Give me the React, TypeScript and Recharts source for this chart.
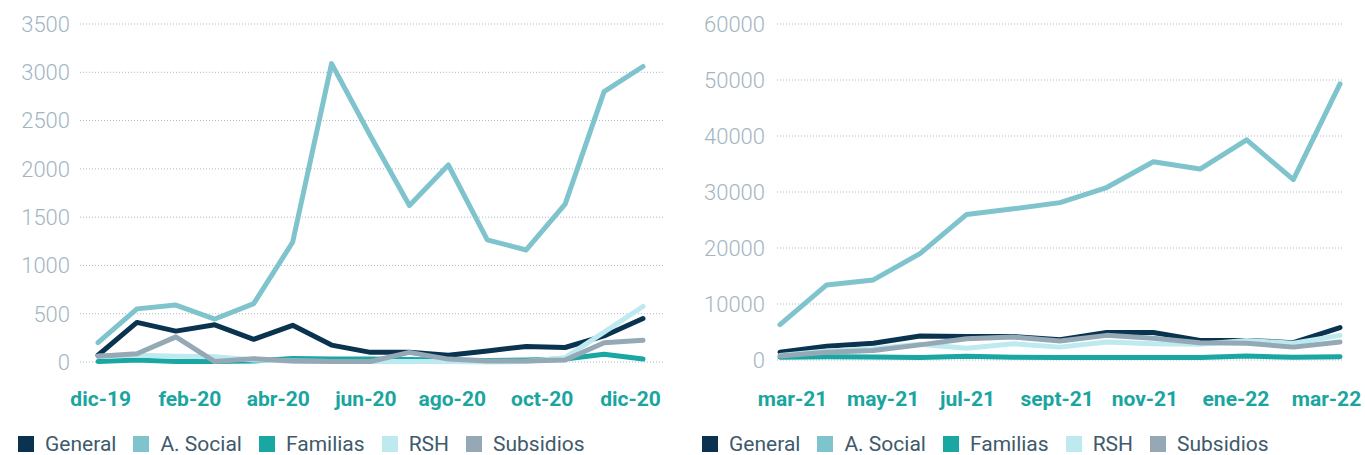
import React from 'react';
import { LineChart, Line, XAxis, YAxis, CartesianGrid, Legend } from 'recharts';

// ---------- Left chart (dic-19 .. dic-20) ----------
const LEFT_IDX = [0, 1, 2, 3, 4, 5, 6, 7, 8, 9, 10, 11, 12, 13, 14];
const LEFT_TICK_POS = [0.07, 2.36, 4.63, 6.88, 9.1, 11.41, 13.68];
const LEFT_TICK_LABELS = ['dic-19', 'feb-20', 'abr-20', 'jun-20', 'ago-20', 'oct-20', 'dic-20'];
const LEFT_Y_TICKS = [0, 500, 1000, 1500, 2000, 2500, 3000, 3500];
const LEFT_GENERAL = [70, 410, 320, 385, 235, 380, 175, 100, 100, 70, 115, 160, 150, 270, 450];
const LEFT_SOCIAL = [200, 550, 590, 445, 605, 1240, 3090, 2340, 1620, 2040, 1265, 1160, 1635, 2800, 3060];
const LEFT_FAMILIAS = [5, 20, 5, 5, 10, 35, 30, 30, 25, 20, 15, 20, 30, 80, 30];
const LEFT_RSH = [60, 70, 60, 55, 20, 10, 5, 5, 5, 5, 0, 5, 45, 310, 575];
const LEFT_SUBSIDIOS = [60, 85, 260, 5, 35, 10, 5, 5, 100, 30, 10, 10, 20, 200, 225];

// ---------- Right chart (mar-21 .. mar-22) ----------
const RIGHT_IDX = [0, 1, 2, 3, 4, 5, 6, 7, 8, 9, 10, 11, 12];
const RIGHT_TICK_POS = [0.27, 2.21, 4.02, 5.94, 7.82, 9.77, 11.71];
const RIGHT_TICK_LABELS = ['mar-21', 'may-21', 'jul-21', 'sept-21', 'nov-21', 'ene-22', 'mar-22'];
const RIGHT_Y_TICKS = [0, 10000, 20000, 30000, 40000, 50000, 60000];
const RIGHT_GENERAL = [1400, 2450, 3000, 4300, 4200, 4200, 3600, 4900, 4900, 3500, 3500, 3100, 5800];
const RIGHT_SOCIAL = [6300, 13400, 14300, 19000, 26000, 27000, 28100, 30800, 35400, 34100, 39300, 32200, 49300];
const RIGHT_FAMILIAS = [500, 600, 550, 450, 650, 500, 450, 450, 450, 450, 700, 500, 600];
const RIGHT_RSH = [800, 1600, 2000, 2800, 2100, 2900, 2300, 3200, 2900, 2800, 3500, 3000, 4400];
const RIGHT_SUBSIDIOS = [700, 1400, 1700, 2700, 3800, 4100, 3400, 4400, 3900, 3100, 3000, 2300, 3200];

// ---------- Series ----------
const SERIES_KEYS = ['general', 'social', 'familias', 'rsh', 'subsidios'];
const SERIES_NAMES = ['General', 'A. Social', 'Familias', 'RSH', 'Subsidios'];
const SERIES_COLORS = ['#0a3350', '#7fc3cd', '#19a7a3', '#bde9f0', '#94a9b5'];

const FONT = 'Roboto, "Noto Sans", sans-serif';
const Y_TICK_COLOR = '#a2b6c2';
const GRID_COLOR = '#a9bac6';
const X_TICK_COLOR = '#1aa5a0';
const LEGEND_TEXT = '#3e5a6c';

function buildRows(idx: number[], series: number[][]) {
  return idx.map((i, k) => {
    const row: Record<string, number> = { i };
    SERIES_KEYS.forEach((key, s) => {
      row[key] = series[s][k];
    });
    return row;
  });
}

const leftRows = buildRows(LEFT_IDX, [LEFT_GENERAL, LEFT_SOCIAL, LEFT_FAMILIAS, LEFT_RSH, LEFT_SUBSIDIOS]);
const rightRows = buildRows(RIGHT_IDX, [RIGHT_GENERAL, RIGHT_SOCIAL, RIGHT_FAMILIAS, RIGHT_RSH, RIGHT_SUBSIDIOS]);

const renderLegend = (props: any) => {
  const payload = [...(props.payload || [])].sort(
    (a: any, b: any) => SERIES_NAMES.indexOf(a.value) - SERIES_NAMES.indexOf(b.value)
  );
  return (
    <div
      style={{
        display: 'flex',
        alignItems: 'center',
        height: 20,
        fontFamily: FONT,
        fontSize: 21,
        color: LEGEND_TEXT,
        whiteSpace: 'nowrap',
      }}
    >
      {payload.map((p: any) => (
        <div key={p.value} style={{ display: 'flex', alignItems: 'center', marginRight: 17 }}>
          <span style={{ width: 16, height: 16, background: p.color, marginRight: 11, display: 'inline-block' }} />
          <span style={{ lineHeight: '20px' }}>{p.value}</span>
        </div>
      ))}
    </div>
  );
};

type PanelProps = {
  rows: any[];
  width: number;
  margin: { top: number; right: number; left: number; bottom: number };
  xMax: number;
  xPadding: { left: number; right: number };
  tickPos: number[];
  tickLabels: string[];
  yTicks: number[];
  yWidth: number;
  yTickMargin: number;
  xTickMargin: number;
  legendLeft: number;
};

function Panel(p: PanelProps) {
  return (
    <LineChart width={p.width} height={455} data={p.rows} margin={p.margin}>
      <CartesianGrid vertical={false} stroke={GRID_COLOR} strokeDasharray="1 2" />
      <XAxis
        dataKey="i"
        type="number"
        domain={[0, p.xMax]}
        ticks={p.tickPos}
        interval={0}
        tickFormatter={(_v: any, index: number) => p.tickLabels[index]}
        padding={p.xPadding}
        axisLine={false}
        tickLine={false}
        height={40}
        tickMargin={p.xTickMargin}
        tick={{ fill: X_TICK_COLOR, fontSize: 21, fontWeight: 700, fontFamily: FONT }}
      />
      <YAxis
        domain={[0, p.yTicks[p.yTicks.length - 1]]}
        ticks={p.yTicks}
        interval={0}
        axisLine={false}
        tickLine={false}
        width={p.yWidth}
        tickMargin={p.yTickMargin}
        tick={{ fill: Y_TICK_COLOR, fontSize: 22, fontWeight: 300, fontFamily: FONT }}
      />
      <Legend
        layout="horizontal"
        verticalAlign="middle"
        align="center"
        content={renderLegend}
        wrapperStyle={{ left: p.legendLeft, top: 434, width: 'auto' }}
      />
      {SERIES_KEYS.map((key, s) => (
        <Line
          key={key}
          type="linear"
          dataKey={key}
          name={SERIES_NAMES[s]}
          stroke={SERIES_COLORS[s]}
          strokeWidth={5}
          strokeLinecap="round"
          strokeLinejoin="round"
          dot={false}
          activeDot={false}
          isAnimationActive={false}
        />
      ))}
    </LineChart>
  );
}

export default function App() {
  return (
    <div style={{ position: 'absolute', left: 0, top: 0, width: 1365, height: 455, display: 'flex', background: '#fff' }}>
      <Panel
        rows={leftRows}
        width={680}
        margin={{ top: 24, right: 17, left: 0, bottom: 53 }}
        xMax={14}
        xPadding={{ left: 18, right: 20 }}
        tickPos={LEFT_TICK_POS}
        tickLabels={LEFT_TICK_LABELS}
        yTicks={LEFT_Y_TICKS}
        yWidth={80}
        yTickMargin={4}
        xTickMargin={23}
        legendLeft={18}
      />
      <Panel
        rows={rightRows}
        width={685}
        margin={{ top: 24, right: 21, left: 0, bottom: 55 }}
        xMax={12}
        xPadding={{ left: 3, right: 4 }}
        tickPos={RIGHT_TICK_POS}
        tickLabels={RIGHT_TICK_LABELS}
        yTicks={RIGHT_Y_TICKS}
        yWidth={97}
        yTickMargin={6}
        xTickMargin={25}
        legendLeft={22}
      />
    </div>
  );
}
